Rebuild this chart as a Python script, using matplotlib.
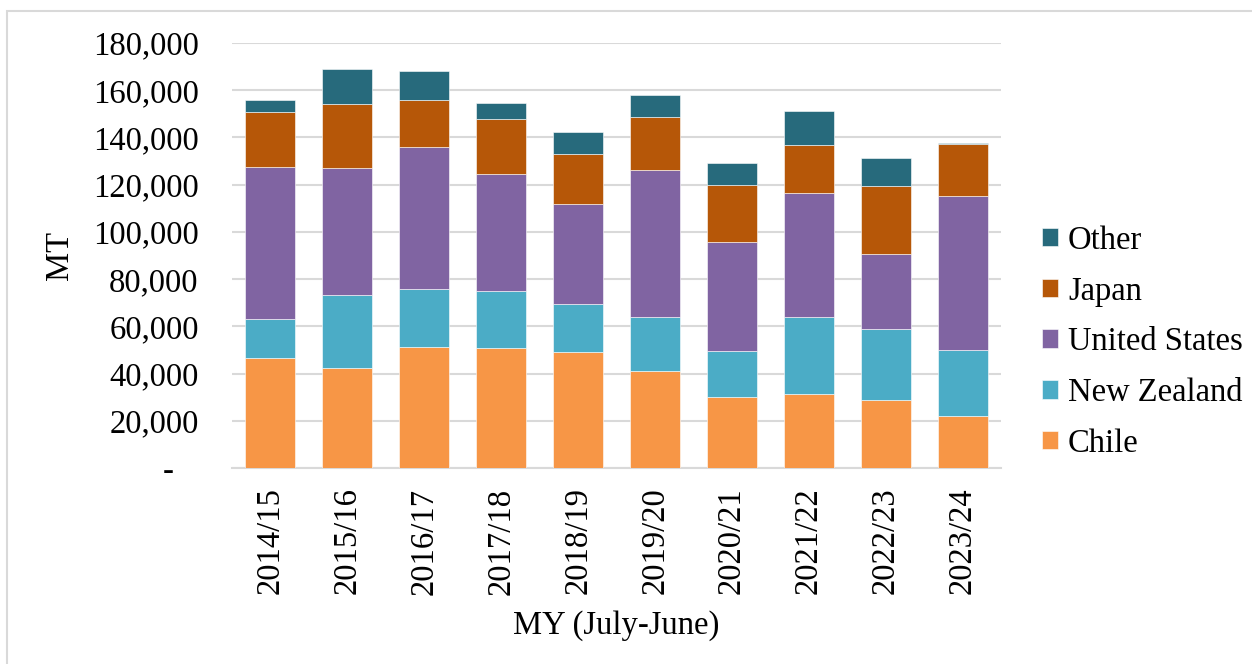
import matplotlib
matplotlib.use("Agg")
import matplotlib.pyplot as plt
from matplotlib.patches import Rectangle
from matplotlib.ticker import FuncFormatter

years = ["2014/15", "2015/16", "2016/17", "2017/18", "2018/19",
         "2019/20", "2020/21", "2021/22", "2022/23", "2023/24"]
# thousand MT per segment
chile = [46.4, 42.5, 51.3, 50.8, 49.2, 41.0, 29.9, 31.3, 28.8, 22.1]
new_zealand = [16.8, 30.6, 24.6, 24.2, 20.3, 23.0, 19.7, 32.7, 29.9, 28.0]
united_states = [64.2, 54.0, 60.1, 49.4, 42.3, 62.1, 46.2, 52.5, 32.0, 65.1]
japan = [23.4, 27.2, 20.0, 23.6, 21.3, 22.4, 23.9, 20.3, 28.8, 22.0]
other = [5.2, 14.7, 12.1, 6.6, 9.4, 9.6, 9.5, 14.4, 11.8, 0.6]

series_names = ["Chile", "New Zealand", "United States", "Japan", "Other"]
series_vals = [chile, new_zealand, united_states, japan, other]
colors = ["#F79646", "#4BACC6", "#8064A2", "#B65708", "#276A7C"]

plt.rcParams['font.family'] = ['Liberation Serif', 'DejaVu Serif']
FS = 23.5

fig = plt.figure(figsize=(12.52, 6.64), dpi=100)
fig.patches.append(Rectangle((7/1252, -0.1), 1.2, 1.1 - 11/664,
                             transform=fig.transFigure, fill=False,
                             edgecolor="#d9d9d9", linewidth=1.5))
ax = fig.add_axes([232/1252, 1 - 468/664, (1001 - 232)/1252, (468 - 43)/664])

x = list(range(len(years)))
bottom = [0.0] * len(years)
handles = []
for name, vals, c in zip(series_names, series_vals, colors):
    v = [a * 1000 for a in vals]
    b = ax.bar(x, v, bottom=bottom, width=0.65, color=c, edgecolor="white",
               linewidth=0.4, label=name, zorder=3)
    handles.append(b)
    bottom = [bb + vv for bb, vv in zip(bottom, v)]

ax.set_ylim(0, 180000)
ax.set_xlim(-0.5, len(years) - 0.5)
ax.set_yticks(range(0, 180001, 20000))
ax.yaxis.set_major_formatter(FuncFormatter(lambda v, p: "-   " if v == 0 else f"{int(v):,}"))
ax.set_xticks(x)
ax.set_xticklabels(years, rotation=90)
ax.tick_params(axis="both", length=0, labelsize=FS)
ax.tick_params(axis="y", pad=24)
ax.tick_params(axis="x", pad=14)
ax.grid(axis="y", color="#d9d9d9", linewidth=1.5, zorder=0)
for s in ["top", "right", "left"]:
    ax.spines[s].set_visible(False)
ax.spines["bottom"].set_color("#d9d9d9")
ax.spines["bottom"].set_linewidth(1.5)

ax.set_ylabel("MT", fontsize=FS, labelpad=13)
ax.set_xlabel("MY (July-June)", fontsize=FS, labelpad=11)

leg = fig.legend(handles[::-1], series_names[::-1], loc="center left",
                 bbox_to_anchor=(1042/1252, 1 - 342/664), frameon=False,
                 fontsize=FS, handlelength=0.5, handleheight=0.5,
                 handletextpad=0.3, labelspacing=0.62, borderpad=0,
                 borderaxespad=0)

fig.savefig("out.png", dpi=100)
